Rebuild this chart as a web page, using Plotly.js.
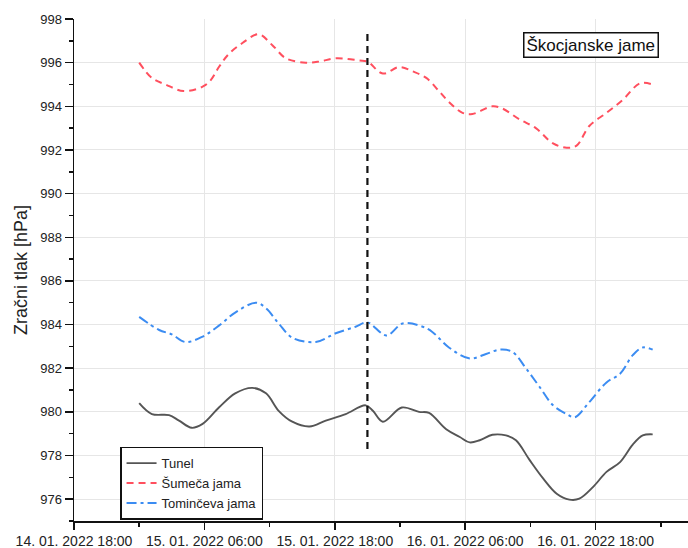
<!DOCTYPE html>
<html>
<head>
<meta charset="utf-8">
<script src="https://cdn.plot.ly/plotly-3.0.1.min.js"></script>
<style>html,body{margin:0;padding:0;background:#fff;}#chart{width:688px;height:548px;}</style>
</head>
<body>
<div id="chart"></div>
<script>
// Tunel (black solid)
const tunelTime = ['2022-01-15 00:00','2022-01-15 01:10','2022-01-15 02:45','2022-01-15 03:40','2022-01-15 04:50','2022-01-15 05:50','2022-01-15 07:20','2022-01-15 08:50','2022-01-15 10:25','2022-01-15 11:40','2022-01-15 12:50','2022-01-15 14:05','2022-01-15 15:40','2022-01-15 17:10','2022-01-15 19:00','2022-01-15 20:50','2022-01-15 21:30','2022-01-15 22:25','2022-01-16 00:10','2022-01-16 01:45','2022-01-16 02:40','2022-01-16 04:15','2022-01-16 05:30','2022-01-16 06:25','2022-01-16 07:20','2022-01-16 08:30','2022-01-16 09:45','2022-01-16 10:40','2022-01-16 11:55','2022-01-16 13:10','2022-01-16 14:25','2022-01-16 15:35','2022-01-16 16:30','2022-01-16 17:45','2022-01-16 19:00','2022-01-16 20:15','2022-01-16 21:25','2022-01-16 22:20','2022-01-16 23:15'];
const tunelVal = [980.4,979.9,979.85,979.6,979.27,979.45,980.2,980.85,981.1,980.85,980.05,979.55,979.33,979.6,979.9,980.3,980.05,979.55,980.2,980.0,979.95,979.2,978.85,978.6,978.7,978.95,978.92,978.7,977.8,976.95,976.25,975.98,976.02,976.55,977.25,977.7,978.5,978.92,978.97];

// Šumeča jama (red dashed)
const sumecaTime = ['2022-01-15 00:00','2022-01-15 01:10','2022-01-15 02:25','2022-01-15 04:05','2022-01-15 05:50','2022-01-15 06:35','2022-01-15 07:20','2022-01-15 08:15','2022-01-15 09:30','2022-01-15 11:00','2022-01-15 12:15','2022-01-15 13:30','2022-01-15 15:20','2022-01-15 16:35','2022-01-15 18:05','2022-01-15 20:15','2022-01-15 21:00','2022-01-15 22:25','2022-01-15 23:56','2022-01-16 01:10','2022-01-16 02:25','2022-01-16 03:35','2022-01-16 04:30','2022-01-16 05:45','2022-01-16 06:40','2022-01-16 08:30','2022-01-16 09:25','2022-01-16 11:00','2022-01-16 12:30','2022-01-16 14:05','2022-01-16 15:20','2022-01-16 16:15','2022-01-16 17:25','2022-01-16 19:00','2022-01-16 20:30','2022-01-16 22:05','2022-01-16 23:15'];
const sumecaVal = [996.0,995.3,995.0,994.7,994.9,995.2,995.8,996.4,996.9,997.3,996.8,996.2,996.0,996.05,996.2,996.1,996.05,995.5,995.8,995.6,995.3,994.7,994.2,993.7,993.65,994.0,993.9,993.4,993.0,992.3,992.1,992.2,993.1,993.7,994.3,995.05,995.0];

// Tominčeva jama (blue dash-dot)
const tominTime = ['2022-01-15 00:00','2022-01-15 01:50','2022-01-15 03:00','2022-01-15 04:15','2022-01-15 05:50','2022-01-15 07:20','2022-01-15 08:50','2022-01-15 10:45','2022-01-15 11:40','2022-01-15 12:50','2022-01-15 14:05','2022-01-15 16:15','2022-01-15 18:05','2022-01-15 19:55','2022-01-15 21:00','2022-01-15 22:45','2022-01-16 00:15','2022-01-16 02:05','2022-01-16 03:00','2022-01-16 04:30','2022-01-16 06:25','2022-01-16 07:55','2022-01-16 09:10','2022-01-16 10:20','2022-01-16 11:35','2022-01-16 12:50','2022-01-16 14:05','2022-01-16 15:20','2022-01-16 16:05','2022-01-16 17:25','2022-01-16 19:00','2022-01-16 20:15','2022-01-16 21:25','2022-01-16 22:20','2022-01-16 23:15'];
const tominVal = [984.35,983.75,983.55,983.2,983.45,983.95,984.55,985.0,984.75,984.05,983.4,983.2,983.6,983.9,984.1,983.5,984.05,983.9,983.65,982.95,982.45,982.65,982.85,982.75,982.0,981.15,980.3,979.9,979.75,980.45,981.35,981.75,982.6,982.95,982.85];

const seriesNames = ['Tunel','Šumeča jama','Tominčeva jama'];
const eventTime = '2022-01-15 21:00';
const eventLow = 978.3, eventHigh = 997.4;
const boxLabel = 'Škocjanske jame';
const yTitle = 'Zračni tlak [hPa]';

const font = 'Liberation Sans, Arial, sans-serif';

const traces = [
  {x: tunelTime, y: tunelVal, name: seriesNames[0], mode: 'lines', line: {color: '#555555', width: 1.9, shape: 'spline', smoothing: 1}},
  {x: sumecaTime, y: sumecaVal, name: seriesNames[1], mode: 'lines', line: {color: '#ff4f5e', width: 2, dash: '7px,5px', shape: 'spline', smoothing: 1}},
  {x: tominTime, y: tominVal, name: seriesNames[2], mode: 'lines', line: {color: '#3b8cf2', width: 2, dash: '10px,4px,3px,4px', shape: 'spline', smoothing: 1}}
];

const layout = {
  width: 688, height: 548,
  margin: {l: 74, r: 0, t: 19, b: 27},
  paper_bgcolor: '#fff', plot_bgcolor: '#fff',
  font: {family: font, color: '#222', size: 12},
  showlegend: true,
  legend: {x: 0.075, y: 0.148, xanchor: 'left', yanchor: 'top', bgcolor: '#fff', bordercolor: '#111', borderwidth: 1.5, font: {family: font, size: 13, color: '#222'}, itemwidth: 30, tracegroupgap: 0},
  xaxis: {
    type: 'date',
    range: ['2022-01-14 18:00', '2022-01-17 02:30'],
    tick0: '2022-01-14 18:00', dtick: 12*3600*1000,
    tickformat: '%d. %m. %Y %H:%M',
    ticks: 'outside', ticklen: 7, tickwidth: 1.5, tickcolor: '#111',
    showline: true, linecolor: '#111', linewidth: 1.5,
    showgrid: true, gridcolor: '#e6e6e6', gridwidth: 1,
    zeroline: false,
    tickfont: {family: font, size: 14, color: '#222'},
    minor: {dtick: 6*3600*1000, ticks: 'outside', ticklen: 4, tickwidth: 1.5, tickcolor: '#111', showgrid: false}
  },
  yaxis: {
    range: [975, 998],
    tick0: 976, dtick: 2,
    ticks: 'outside', ticklen: 8, tickwidth: 1.5, tickcolor: '#111',
    showline: true, linecolor: '#111', linewidth: 1.5,
    showgrid: true, gridcolor: '#e6e6e6', gridwidth: 1,
    zeroline: false,
    tickfont: {family: font, size: 13, color: '#222'},
    title: {text: yTitle, font: {family: font, size: 18, color: '#222'}, standoff: 8},
    minor: {dtick: 1, ticks: 'outside', ticklen: 4, tickwidth: 1.5, tickcolor: '#111', showgrid: false}
  },
  shapes: [{type: 'line', xref: 'x', yref: 'y', x0: eventTime, x1: eventTime, y0: eventLow, y1: eventHigh, line: {color: '#111', width: 2.2, dash: '7px,5px'}}],
  annotations: [{xref: 'paper', yref: 'paper', x: 0.842, y: 0.948, xanchor: 'center', yanchor: 'middle', text: boxLabel, showarrow: false, font: {family: font, size: 17, color: '#111'}, bgcolor: '#fff', bordercolor: '#111', borderwidth: 1.5, borderpad: 2}]
};

Plotly.newPlot('chart', traces, layout, {displayModeBar: false, staticPlot: true});
</script>
</body>
</html>
